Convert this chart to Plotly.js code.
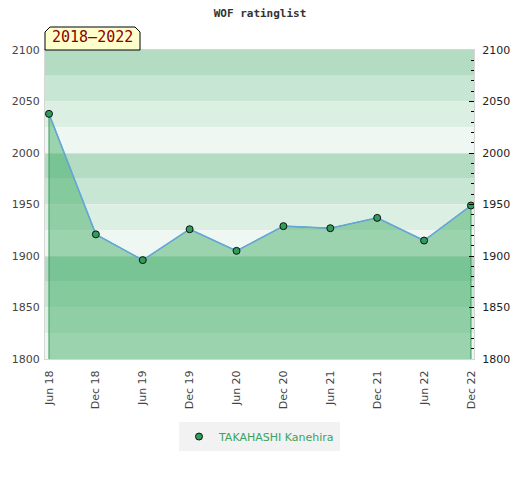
<!DOCTYPE html>
<html>
<head>
<meta charset="utf-8">
<script src="https://cdn.plot.ly/plotly-3.0.1.min.js"></script>
<style>html,body{margin:0;padding:0;background:#fff}#chart{width:520px;height:480px}</style>
</head>
<body>
<div id="chart"></div>
<script>
var periods = ['Jun 18','Dec 18','Jun 19','Dec 19','Jun 20','Dec 20','Jun 21','Dec 21','Jun 22','Dec 22'];
var ratings = [2038, 1921, 1896, 1926, 1905, 1929, 1927, 1937, 1915, 1949];
var playerName = 'TAKAHASHI Kanehira';
var chartTitle = 'WOF ratinglist';
var periodLabel = '2018\u20132022';
var yMin = 1800, yMax = 2100, bandStep = 25;
var bandColors = ['#b3dcc3', '#c8e6d4', '#dcefe3', '#eff7f2'];

var idx = periods.map(function(_, i){ return i; });
var last = idx.length - 1;

var fillX = [0].concat(idx, [last]);
var fillY = [yMin].concat(ratings, [yMin]);

var traces = [
  {x: fillX, y: fillY, type: 'scatter', mode: 'lines', fill: 'toself',
   fillcolor: 'rgba(45,164,85,0.43)', line: {color: '#3c9a5f', width: 1},
   hoverinfo: 'skip', showlegend: false},
  {x: idx, y: ratings, type: 'scatter', mode: 'lines',
   line: {color: '#66a6db', width: 1.5}, showlegend: false},
  {x: idx, y: ratings, type: 'scatter', mode: 'markers', name: playerName,
   marker: {size: 7, color: '#2e9e5a', line: {color: '#111', width: 1}}},
  {x: idx, y: ratings, type: 'scatter', mode: 'markers', yaxis: 'y2',
   marker: {size: 1, opacity: 0}, showlegend: false, hoverinfo: 'skip'}
];

var shapes = [];
var bandIndex = 0;
for (var bandTop = yMax; bandTop > yMin; bandTop -= bandStep) {
  shapes.push({type: 'rect', xref: 'paper', yref: 'y', x0: 0, x1: 1,
    y0: bandTop - bandStep, y1: bandTop, fillcolor: bandColors[bandIndex % bandColors.length],
    line: {width: 0}, layer: 'below'});
  bandIndex++;
}
shapes.push({type: 'path', xref: 'paper', yref: 'paper', xsizemode: 'pixel', ysizemode: 'pixel',
  xanchor: 0, yanchor: 1,
  path: 'M0,0 L0,18 L5,23 L90,23 L95,18 L95,0 Z',
  fillcolor: '#ffffcc', line: {color: '#000', width: 1}});

var layout = {
  width: 520, height: 480,
  margin: {l: 45, r: 46, t: 50, b: 121},
  paper_bgcolor: '#fff', plot_bgcolor: 'rgba(0,0,0,0)',
  title: {text: chartTitle, x: 0.5, xanchor: 'center', y: 0.973, yanchor: 'middle',
    font: {family: 'DejaVu Sans Mono', size: 11, color: '#333', weight: 'bold'}},
  xaxis: {range: [-0.085, last + 0.065], tickvals: idx, ticktext: periods, tickangle: -90,
    showgrid: false, zeroline: false, showline: true, linecolor: '#d6d6d6', mirror: true,
    ticks: '', ticklabelstandoff: 6, tickfont: {family: 'DejaVu Sans', size: 11, color: '#444'}},
  yaxis: {range: [yMin, yMax], dtick: 50, showgrid: true, gridcolor: 'rgba(235,235,235,0.5)',
    zeroline: false, showline: true, linecolor: '#d6d6d6', ticks: '', ticklabelstandoff: 2,
    tickfont: {family: 'DejaVu Sans', size: 11, color: '#444'}},
  yaxis2: {range: [yMin, yMax], dtick: 50, overlaying: 'y', side: 'right', showgrid: false,
    zeroline: false, showline: true, linecolor: '#d6d6d6', ticks: 'inside', ticklen: 5,
    tickcolor: '#000', ticklabelstandoff: 5,
    minor: {dtick: 10, ticks: 'inside', ticklen: 3, tickcolor: '#000'},
    tickfont: {family: 'DejaVu Sans', size: 11, color: '#222'}},
  shapes: shapes,
  annotations: [{text: periodLabel, xref: 'paper', yref: 'paper', x: 0, y: 1,
    xanchor: 'left', yanchor: 'bottom', xshift: 5, yshift: 2, showarrow: false,
    font: {family: 'DejaVu Sans Mono', size: 15, color: '#8b0000'}}],
  legend: {orientation: 'h', x: 0.5, xanchor: 'center', y: -0.251, yanchor: 'middle',
    bgcolor: '#f2f2f2', font: {family: 'DejaVu Sans', size: 11, color: '#3aa35f'}},
  showlegend: true
};

Plotly.newPlot('chart', traces, layout, {displayModeBar: false, staticPlot: true});
</script>
</body>
</html>
